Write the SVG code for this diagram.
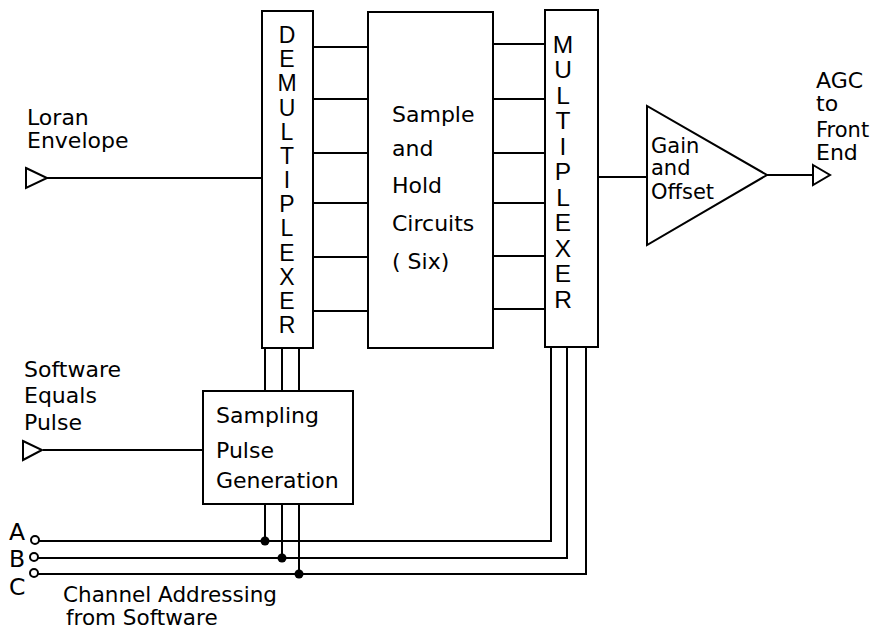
<svg xmlns="http://www.w3.org/2000/svg" width="876" height="631" viewBox="0 0 876 631">
<style>
.box{fill:none;stroke:#000;stroke-width:2}
.ln{fill:none;stroke:#000;stroke-width:2}
.t{font-family:"DejaVu Sans","Liberation Sans",sans-serif;font-size:22px;fill:#000}
.g{font-family:"DejaVu Sans","Liberation Sans",sans-serif;font-size:21px;fill:#000}
.abc{font-family:"DejaVu Sans","Liberation Sans",sans-serif;font-size:23.5px;fill:#000}
.vd{font-family:"Liberation Sans",Arial,sans-serif;font-size:23px;fill:#000;text-anchor:middle}
.vm{font-family:"Liberation Sans",Arial,sans-serif;font-size:24.5px;fill:#000;text-anchor:middle}
.port{fill:#fff;stroke:#000;stroke-width:2}
.dot{fill:#000}
</style>
<rect width="876" height="631" fill="#fff"/>
<g id="connectors">
<path class="ln" d="M47 178H262"/>
<path class="ln" d="M43 450H203"/>
<path class="ln" d="M313 47H368M313 99H368M313 153H368M313 203H368M313 257H368M313 311H368"/>
<path class="ln" d="M493 44H545M493 99H545M493 153H545M493 203H545M493 256H545M493 309H545"/>
<path class="ln" d="M265 348V391M282 348V391M299 348V391"/>
<path class="ln" d="M265 504V541M282 504V558M299 504V574"/>
<path class="ln" d="M39 541H551V347M38 558H567V347M38 574H586V347"/>
<path class="ln" d="M598 177H647"/>
<path class="ln" d="M767 175H813"/>
<circle class="dot" cx="265" cy="541" r="4.5"/>
<circle class="dot" cx="282" cy="558" r="4.5"/>
<circle class="dot" cx="299" cy="574" r="4.5"/>
</g>
<g id="loran-input">
<text class="t" x="27" y="125">Loran</text>
<text class="t" x="27" y="148">Envelope</text>
<path class="port" d="M26 168L47 178L26 188Z"/>
</g>
<g id="software-equals-input">
<text class="t" x="24" y="377">Software</text>
<text class="t" x="24" y="403">Equals</text>
<text class="t" x="24" y="430">Pulse</text>
<path class="port" d="M23 441L42 450L23 460Z"/>
</g>
<g id="demultiplexer">
<rect class="box" x="262" y="11" width="51" height="337"/>
<text class="vd" x="287" y="43">D</text>
<text class="vd" x="287" y="67">E</text>
<text class="vd" x="287" y="91">M</text>
<text class="vd" x="287" y="116">U</text>
<text class="vd" x="287" y="140">L</text>
<text class="vd" x="287" y="164">T</text>
<text class="vd" x="287" y="188">I</text>
<text class="vd" x="287" y="212">P</text>
<text class="vd" x="287" y="236">L</text>
<text class="vd" x="287" y="261">E</text>
<text class="vd" x="287" y="285">X</text>
<text class="vd" x="287" y="309">E</text>
<text class="vd" x="287" y="333">R</text>
</g>
<g id="sample-hold">
<rect class="box" x="368" y="12" width="125" height="336"/>
<text class="t" x="392" y="122">Sample</text>
<text class="t" x="392" y="156">and</text>
<text class="t" x="392" y="193">Hold</text>
<text class="t" x="392" y="231">Circuits</text>
<text class="t" x="392" y="269">( Six)</text>
</g>
<g id="multiplexer">
<rect class="box" x="545" y="10" width="53" height="337"/>
<text class="vm" x="563" y="53">M</text>
<text class="vm" x="563" y="78">U</text>
<text class="vm" x="563" y="104">L</text>
<text class="vm" x="563" y="129">T</text>
<text class="vm" x="563" y="155">I</text>
<text class="vm" x="563" y="180">P</text>
<text class="vm" x="563" y="206">L</text>
<text class="vm" x="563" y="231">E</text>
<text class="vm" x="563" y="257">X</text>
<text class="vm" x="563" y="282">E</text>
<text class="vm" x="563" y="308">R</text>
</g>
<g id="sampling-pulse-generation">
<rect class="box" x="203" y="391" width="150" height="113"/>
<text class="t" x="216" y="423">Sampling</text>
<text class="t" x="216" y="458">Pulse</text>
<text class="t" x="216" y="488">Generation</text>
</g>
<g id="gain-offset">
<path class="box" d="M647 106L647 245L767 175Z"/>
<text class="g" x="651" y="153">Gain</text>
<text class="g" x="651" y="175">and</text>
<text class="g" x="651" y="199">Offset</text>
</g>
<g id="agc-output">
<path class="port" d="M813 165L830 175L813 185Z"/>
<text class="t" x="816" y="88">AGC</text>
<text class="t" x="816" y="111">to</text>
<text class="g" x="816" y="137">Front</text>
<text class="t" x="816" y="160">End</text>
</g>
<g id="channel-addressing">
<text class="abc" x="9" y="540">A</text>
<text class="abc" x="9" y="567">B</text>
<text class="abc" x="9" y="595">C</text>
<circle class="port" cx="35" cy="540" r="4"/>
<circle class="port" cx="34" cy="557" r="4"/>
<circle class="port" cx="34" cy="573" r="4"/>
<text class="t" x="63" y="602" style="font-size:21.5px">Channel Addressing</text>
<text class="t" x="66" y="625" style="font-size:21.5px">from Software</text>
</g>
</svg>
